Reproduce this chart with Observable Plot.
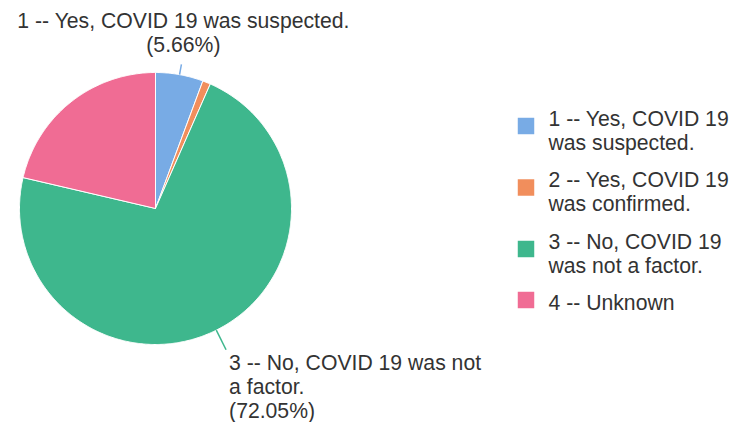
<!DOCTYPE html>
<html>
<head>
<meta charset="utf-8">
<script src="https://cdn.jsdelivr.net/npm/d3@7"></script>
<script src="https://cdn.jsdelivr.net/npm/@observablehq/plot@0.6"></script>
<style>
  html, body { margin: 0; padding: 0; background: #fff; }
  #chart svg { display: block; }
</style>
</head>
<body>
<div id="chart"></div>
<script>
// ---- data ----
const categories = [
  "1 -- Yes, COVID 19 was suspected.",
  "2 -- Yes, COVID 19 was confirmed.",
  "3 -- No, COVID 19 was not a factor.",
  "4 -- Unknown"
];
const shares = [5.66, 0.94, 72.05, 21.35];
const colors = ["#78abe5", "#f18e5c", "#3eb78d", "#f06c94"];
// slice labels as wrapped in the picture ("" = no label)
const sliceLabels = [
  "1 -- Yes, COVID 19 was suspected.",
  "",
  "3 -- No, COVID 19 was not\na factor.",
  ""
];
// legend entries as wrapped in the picture
const legendLabels = [
  "1 -- Yes, COVID 19\nwas suspected.",
  "2 -- Yes, COVID 19\nwas confirmed.",
  "3 -- No, COVID 19\nwas not a factor.",
  "4 -- Unknown"
];

// ---- layout (pixels) ----
const W = 740, H = 422;
const cx = 155, cy = 208, R = 136;
const toX = px => (px - cx) / R;
const toY = py => (cy - py) / R;
const FONT = "'Liberation Sans', Arial, sans-serif";
const TEXT = "#333333";
const FS = 21.2;

const rows = categories.map((c, i) => ({cat: c, share: shares[i], color: colors[i], label: sliceLabels[i], legend: legendLabels[i]}));
const arcs = d3.pie().sort(null).value(d => d.share)(rows);

// slice outlines in pie units (radius 1)
const slices = arcs.map(a => {
  const pts = [{x: 0, y: 0}];
  const n = Math.max(2, Math.ceil((a.endAngle - a.startAngle) / (Math.PI / 360)));
  for (let k = 0; k <= n; k++) {
    const t = a.startAngle + (a.endAngle - a.startAngle) * k / n;
    pts.push({x: Math.sin(t), y: Math.cos(t)});
  }
  pts.push({x: 0, y: 0});
  return {cat: a.data.cat, color: a.data.color, pts};
});

// leader lines + labels
const leaders = arcs.filter(a => a.data.label).map(a => {
  const m = (a.startAngle + a.endAngle) / 2;
  const up = Math.cos(m) > 0;
  const r2 = up ? 1.077 : 1.161;
  return {
    cat: a.data.cat, color: a.data.color, up,
    x1: Math.sin(m), y1: Math.cos(m),
    x2: r2 * Math.sin(m), y2: r2 * Math.cos(m),
    text: a.data.label + "\n(" + a.data.share.toFixed(2) + "%)"
  };
});

// legend rows
const legendTop = 108, legendStep = 61.5;
const legend = rows.map((d, i) => {
  const top = legendTop + i * legendStep;
  const twoLine = d.legend.includes("\n");
  return {cat: d.cat, text: d.legend, color: d.color,
          sx: toX(525.5), sy: toY(top + (twoLine ? 17.5 : 7)),
          tx: toX(548), ty: toY(top)};
});

const marks = [];
for (const s of slices) {
  marks.push(Plot.line(s.pts, {x: "x", y: "y", fill: s.color, stroke: "#ffffff", strokeWidth: 1, strokeLinejoin: "round"}));
}
marks.push(
  Plot.link(leaders, {x1: "x1", y1: "y1", x2: "x2", y2: "y2", stroke: "color", strokeWidth: 1.5}),
  Plot.text(leaders.filter(d => d.up), {x: "x2", y: "y2", text: "text", textAnchor: "middle", lineAnchor: "top",
    dx: 2, dy: -53.2, fontSize: FS, lineHeight: 24 / FS, fill: TEXT}),
  Plot.text(leaders.filter(d => !d.up), {x: "x2", y: "y2", text: "text", textAnchor: "start", lineAnchor: "top",
    dx: 3, dy: 3.6, fontSize: FS, lineHeight: 24 / FS, fill: TEXT}),
  Plot.dot(legend, {x: "sx", y: "sy", symbol: "square", r: 9.3, fill: "color", stroke: null}),
  Plot.text(legend, {x: "tx", y: "ty", text: "text", textAnchor: "start", lineAnchor: "top",
    fontSize: FS, lineHeight: 24 / FS, fill: TEXT})
);

const chart = Plot.plot({
  width: W, height: H,
  margin: 0,
  x: {type: "linear", domain: [toX(0), toX(W)], range: [0, W], axis: null},
  y: {type: "linear", domain: [toY(H), toY(0)], range: [H, 0], axis: null},
  color: {type: "identity"},
  style: {fontFamily: FONT, fontSize: FS + "px", color: TEXT, background: "#fff", overflow: "visible"},
  marks
});
document.getElementById("chart").appendChild(chart);
</script>
</body>
</html>
